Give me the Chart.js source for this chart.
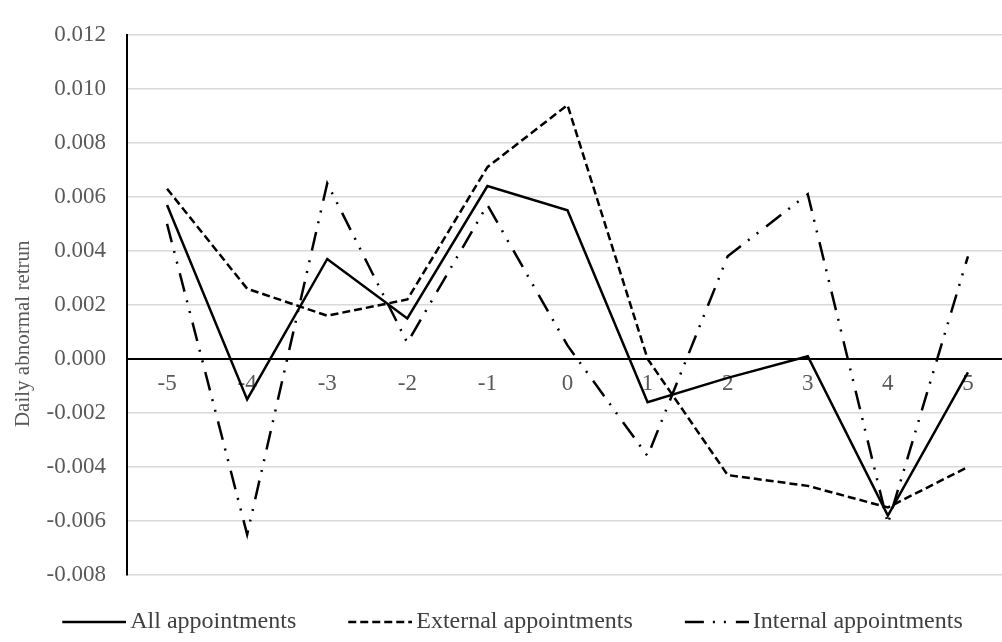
<!DOCTYPE html>
<html>
<head>
<meta charset="utf-8">
<script src="https://cdn.jsdelivr.net/npm/chart.js@4"></script>
<style>
  html, body { margin: 0; padding: 0; background: #ffffff; overflow: hidden; }
  #wrap { width: 1002px; height: 642px; overflow: hidden; position: relative; }
  canvas { display: block; }
</style>
</head>
<body>
<div id="wrap"><canvas id="c" width="1024" height="642"></canvas></div>
<script>
const categories = ['-5', '-4', '-3', '-2', '-1', '0', '1', '2', '3', '4', '5'];
const allAppointments = [0.0057, -0.0015, 0.0037, 0.0015, 0.0064, 0.0055, -0.0016, -0.0007, 0.0001, -0.0058, -0.0005];
const externalAppointments = [0.0063, 0.0026, 0.0016, 0.0022, 0.0071, 0.0094, 0.0000, -0.0043, -0.0047, -0.0055, -0.0040];
const internalAppointments = [0.0050, -0.0065, 0.0065, 0.0006, 0.0057, 0.0005, -0.0036, 0.0038, 0.0061, -0.0061, 0.0038];
const seriesNames = ['All appointments', 'External appointments', 'Internal appointments'];
const yMin = -0.008, yMax = 0.012, yStep = 0.002;
const yTitle = 'Daily abnormal retrun';

const serif = "'Liberation Serif', 'Times New Roman', 'DejaVu Serif', serif";
const dashSolid = [];
const dashDashed = [8, 4];
const dashLongDotDot = [19, 9, 2, 9, 2, 10];

// legend sample: a 64px line drawn on the right part of a small image
const BOX_W = 73;
function legendSample(dash) {
  const c = document.createElement('canvas');
  c.width = BOX_W + 16; c.height = 6;
  const g = c.getContext('2d');
  g.strokeStyle = '#000';
  g.lineWidth = 2.5;
  g.setLineDash(dash);
  g.beginPath();
  g.moveTo(c.width - 64, 3);
  g.lineTo(c.width, 3);
  g.stroke();
  return c;
}

function makeSeries(label, data, dash) {
  return {
    label, data,
    borderColor: '#000', backgroundColor: '#000',
    borderWidth: 2.5, borderDash: dash,
    pointRadius: 0, pointHoverRadius: 0, pointStyle: legendSample(dash),
    tension: 0, fill: false
  };
}

new Chart(document.getElementById('c'), {
  type: 'line',
  data: {
    labels: categories,
    datasets: [
      makeSeries(seriesNames[0], allAppointments, dashSolid),
      makeSeries(seriesNames[1], externalAppointments, dashDashed),
      makeSeries(seriesNames[2], internalAppointments, dashLongDotDot)
    ]
  },
  options: {
    responsive: false,
    animation: false,
    layout: { padding: { top: 17, right: 16, left: 0, bottom: 0 } },
    plugins: {
      legend: {
        position: 'bottom',
        maxHeight: 67,
        labels: {
          usePointStyle: true,
          pointStyleWidth: BOX_W,
          padding: 35,
          color: '#404040',
          font: { family: serif, size: 24 }
        }
      },
      tooltip: { enabled: false }
    },
    scales: {
      x: {
        type: 'category',
        offset: true,
        position: { y: 0 },
        grid: { display: false, drawTicks: false },
        border: { display: true, color: '#000', width: 2 },
        ticks: { color: '#595959', padding: 11, font: { family: serif, size: 23 }, maxRotation: 0, autoSkip: false }
      },
      y: {
        min: yMin,
        max: yMax,
        afterFit: (scale) => { scale.width = 127; },
        grid: { color: '#d9d9d9', lineWidth: 1.5, drawTicks: false },
        border: { display: true, color: '#000', width: 2 },
        ticks: {
          stepSize: yStep,
          padding: 21,
          color: '#595959',
          font: { family: serif, size: 23 },
          callback: (v) => Number(v).toFixed(3)
        },
        title: {
          display: true,
          text: yTitle + '\u00a0'.repeat(11),
          color: '#595959',
          font: { family: serif, size: 21 },
          padding: { top: 11, bottom: 0 }
        }
      }
    }
  }
});
</script>
</body>
</html>
